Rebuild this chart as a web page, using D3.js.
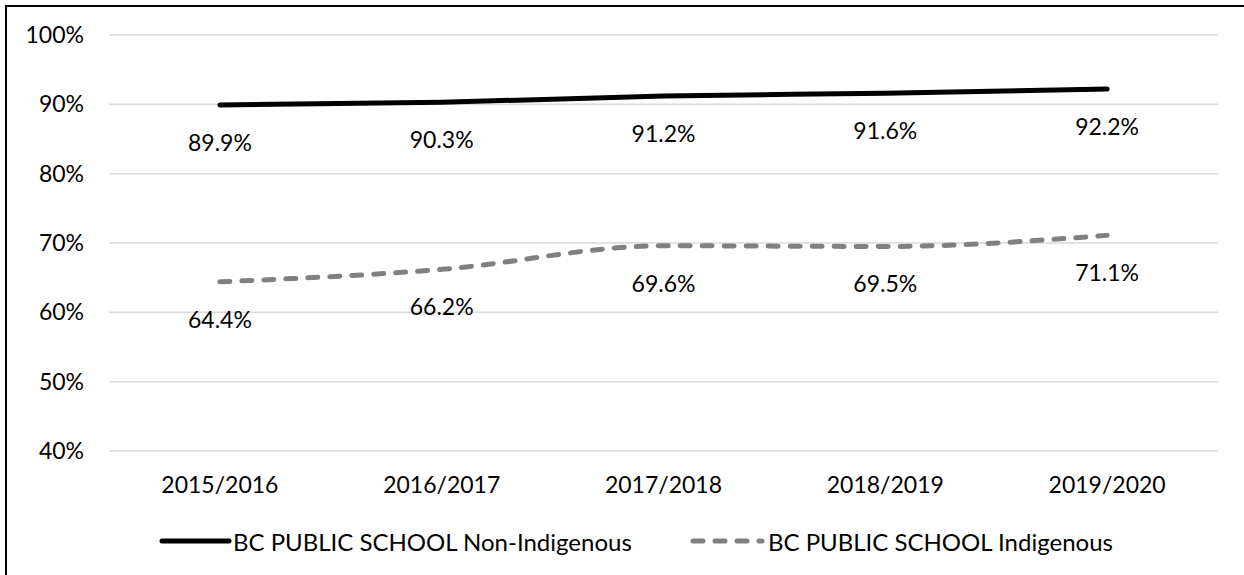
<!DOCTYPE html>
<html>
<head>
<meta charset="utf-8">
<script src="https://cdn.jsdelivr.net/npm/d3@7/dist/d3.min.js"></script>
<style>
  html, body { margin: 0; padding: 0; background: #fff; }
  svg { display: block; }
  text { font-family: Lato, "Open Sans", sans-serif; fill: #000; }
</style>
</head>
<body>
<svg id="chart" width="1244" height="575"></svg>
<script>
const categories = ["2015/2016", "2016/2017", "2017/2018", "2018/2019", "2019/2020"];
const nonIndigenous = [89.9, 90.3, 91.2, 91.6, 92.2];
const indigenous = [64.4, 66.2, 69.6, 69.5, 71.1];
const yTicks = [40, 50, 60, 70, 80, 90, 100];
const seriesNames = ["BC PUBLIC SCHOOL Non-Indigenous", "BC PUBLIC SCHOOL Indigenous"];

const svg = d3.select("#chart");
const W = 1244, H = 575;
const FS = "23px";

// frame (top and left edges visible)
svg.append("path")
  .attr("d", `M6,${H + 5} L6,6 L${W + 5},6`)
  .attr("fill", "none").attr("stroke", "#000").attr("stroke-width", 2);

const plot = { left: 109, right: 1218, top: 35, bottom: 451 };

const x = d3.scaleBand().domain(categories).range([plot.left, plot.right]);
const y = d3.scaleLinear().domain([40, 100]).range([plot.bottom, plot.top]);
const cx = c => x(c) + x.bandwidth() / 2;

// gridlines
svg.append("g").selectAll("line").data(yTicks).join("line")
  .attr("x1", plot.left).attr("x2", plot.right)
  .attr("y1", d => y(d)).attr("y2", d => y(d))
  .attr("stroke", "#d9d9d9").attr("stroke-width", 1.5);

// y axis labels
const yAxis = d3.axisLeft(y).tickValues(yTicks).tickFormat(d => d + "%").tickSize(0).tickPadding(0);
const gy = svg.append("g").attr("transform", `translate(84,0)`).call(yAxis);
gy.select(".domain").remove();
gy.selectAll("text").style("font-size", FS).style("font-family", "Lato, sans-serif").attr("fill", "#000");

// x axis labels
const xAxis = d3.axisBottom(x).tickSize(0).tickPadding(0);
const gx = svg.append("g").attr("transform", `translate(0,477)`).call(xAxis);
gx.select(".domain").remove();
gx.selectAll("text").style("font-size", FS).style("font-family", "Lato, sans-serif").attr("fill", "#000").attr("dy", "0.71em");

const line = d3.line()
  .x((d, i) => cx(categories[i]))
  .y(d => y(d))
  .curve(d3.curveMonotoneX);

svg.append("path").datum(nonIndigenous)
  .attr("d", line).attr("fill", "none")
  .attr("stroke", "#000").attr("stroke-width", 5).attr("stroke-linecap", "round");

svg.append("path").datum(indigenous)
  .attr("d", line).attr("fill", "none")
  .attr("stroke", "#808080").attr("stroke-width", 5)
  .attr("stroke-linecap", "round").attr("stroke-dasharray", "10,12");

// data labels
function labels(data) {
  svg.append("g").selectAll("text").data(data).join("text")
    .attr("x", (d, i) => cx(categories[i]))
    .attr("y", d => y(d) + 37)
    .attr("text-anchor", "middle")
    .attr("dominant-baseline", "central")
    .style("font-size", FS)
    .text(d => d.toFixed(1) + "%");
}
labels(nonIndigenous);
labels(indigenous);

// legend
const legY = 541;
const leg = svg.append("g");
leg.append("line").attr("x1", 162).attr("x2", 229).attr("y1", legY).attr("y2", legY)
  .attr("stroke", "#000").attr("stroke-width", 5).attr("stroke-linecap", "round");
leg.append("text").attr("x", 233).attr("y", legY).attr("dominant-baseline", "central")
  .style("font-size", "24px").text(seriesNames[0]);
leg.append("line").attr("x1", 693).attr("x2", 762).attr("y1", legY).attr("y2", legY)
  .attr("stroke", "#808080").attr("stroke-width", 5).attr("stroke-linecap", "round")
  .attr("stroke-dasharray", "10,12");
leg.append("text").attr("x", 768).attr("y", legY).attr("dominant-baseline", "central")
  .style("font-size", "24px").text(seriesNames[1]);
</script>
</body>
</html>
